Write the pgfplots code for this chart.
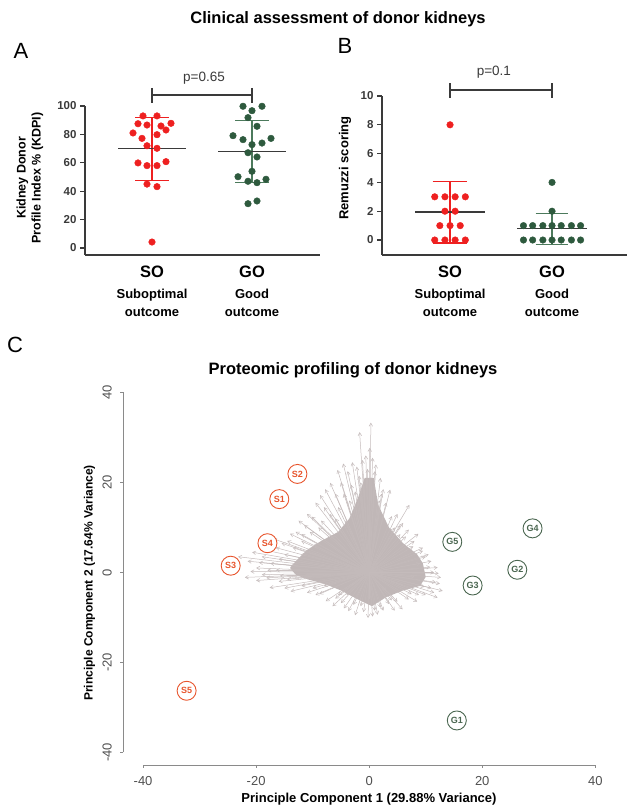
\documentclass[border=0pt]{standalone}
\usepackage{pgfplots}
\pgfplotsset{compat=1.18}
\usepackage{fontspec}
\setmainfont{Liberation Sans}
\usetikzlibrary{arrows.meta}

\definecolor{soRed}{HTML}{EE2020}
\definecolor{goGreen}{HTML}{2E5A3E}
\definecolor{goBar}{HTML}{4C7A5C}
\definecolor{axisdark}{HTML}{3A3A3A}
\definecolor{sOrange}{HTML}{E8552D}
\definecolor{gLabel}{HTML}{4A6650}
\definecolor{arrowGray}{HTML}{C4BBBB}
\definecolor{coreGray}{HTML}{C0B7B7}
\definecolor{cGray}{HTML}{8A8A8A}
\definecolor{tickGray}{HTML}{505050}

\pgfplotsset{
  dotplot/.style={
    scale only axis, clip=false,
    axis lines=left, axis line style={-, line width=1.3pt, draw=axisdark},
    tick align=outside, major tick length=5pt,
    xtick={0,1}, xtick style={draw=none},
    ytick style={line width=1.3pt, draw=axisdark},
    /pgf/number format/assume math mode=true,
    yticklabel style={font=\bfseries\fontsize{11.5}{13}\selectfont, text=axisdark},
    xticklabel style={align=center, font=\bfseries\fontsize{13}{18}\selectfont, text=black},
    xticklabel shift=2pt,
    xticklabels={{{\fontsize{16.5}{18}\selectfont SO}\\[3pt]Suboptimal\\outcome},
                 {{\fontsize{16.5}{18}\selectfont GO}\\[3pt]Good\\outcome}},
  },
  bar/.style={line width=1.3pt},
}

\begin{document}
\begin{tikzpicture}[x=1pt,y=1pt]
\useasboundingbox (0,0) rectangle (629,806);

\node[font=\bfseries\fontsize{16.5}{18}\selectfont] at (338,787) {Clinical assessment of donor kidneys};
\node[font=\fontsize{22}{24}\selectfont] at (21,755) {A};
\node[font=\fontsize{22}{24}\selectfont] at (345,760) {B};
\node[font=\fontsize{22}{24}\selectfont] at (15,461) {C};
\node[font=\bfseries\fontsize{16.5}{18}\selectfont] at (353,436) {Proteomic profiling of donor kidneys};

\node[rotate=90, align=center, font=\bfseries\fontsize{12.5}{15}\selectfont] at (30,628) {Kidney Donor\\Profile Index \% (KDPI)};
\node[rotate=90, font=\bfseries\fontsize{13}{15}\selectfont] at (345,638) {Remuzzi scoring};
\node[rotate=90, font=\bfseries\fontsize{12}{14}\selectfont] at (89.6,223) {Principle Component 2 (17.64\% Variance)};
\node[font=\bfseries\fontsize{13}{15}\selectfont] at (369,7) {Principle Component 1 (29.88\% Variance)};

% ---------- panel A: KDPI
\begin{axis}[dotplot,
  at={(85pt,551pt)}, anchor=south west,
  width=235pt, height=149pt,
  xmin=-0.67, xmax=1.68, ymin=-4.93, ymax=100,
  ytick={0,20,40,60,80,100},
]
\addplot[only marks, mark=*, mark size=3.3pt, color=soRed] coordinates {
  (-0.09,93.0) (0.05,93.0) (-0.14,87.5) (-0.05,86.6) (0.09,85.9) (0.19,87.8)
  (0.14,83.1) (-0.19,81.0) (0.05,79.8) (-0.10,77.2) (-0.05,72.0) (0.05,70.2)
  (-0.14,59.9) (-0.05,58.0) (0.05,58.0) (0.14,60.8) (-0.05,45.0) (0.05,43.2)
  (0,4.2)
};
\addplot[bar, soRed] coordinates {(0,47.6) (0,91.8)};
\addplot[bar, soRed] coordinates {(-0.17,91.8) (0.17,91.8)};
\addplot[bar, soRed] coordinates {(-0.17,47.6) (0.17,47.6)};
\addplot[bar, axisdark] coordinates {(-0.34,70.0) (0.34,70.0)};

\addplot[only marks, mark=*, mark size=3.3pt, color=goGreen] coordinates {
  (0.91,99.8) (1.0,96.7) (1.10,99.8) (0.96,91.8) (1.05,85.7) (0.81,79.1)
  (0.91,76.3) (1.0,72.8) (1.10,73.9) (1.19,77.2) (0.96,67.1) (1.05,64.1)
  (1.0,54.0) (0.86,50.2) (0.96,47.0) (1.05,46.0) (1.14,48.4) (0.96,31.2)
  (1.05,33.1)
};
\addplot[bar, goBar] coordinates {(1,46.2) (1,89.9)};
\addplot[bar, goBar] coordinates {(0.83,89.9) (1.17,89.9)};
\addplot[bar, goBar] coordinates {(0.83,46.2) (1.17,46.2)};
\addplot[bar, axisdark] coordinates {(0.66,67.8) (1.34,67.8)};

\addplot[bar, axisdark] coordinates {(0,112.7) (0,102.1)};
\addplot[bar, axisdark] coordinates {(0,107.7) (1,107.7)};
\addplot[bar, axisdark] coordinates {(1,112.7) (1,102.1)};
\node[font=\fontsize{13.5}{15}\selectfont, text=axisdark] at (axis cs:0.52,119.7) {p=0.65};
\end{axis}

% ---------- panel B: Remuzzi
\begin{axis}[dotplot,
  at={(382pt,551pt)}, anchor=south west,
  width=245pt, height=159pt,
  xmin=-0.667, xmax=1.735, ymin=-1.04, ymax=10,
  ytick={0,2,4,6,8,10},
]
\addplot[only marks, mark=*, mark size=3.3pt, color=soRed] coordinates {
  (0,8)
  (-0.15,3) (-0.05,3) (0.05,3) (0.15,3)
  (-0.05,2) (0.05,2)
  (-0.10,1) (0,1) (0.10,1)
  (-0.15,0) (-0.05,0) (0.05,0) (0.15,0)
};
\addplot[bar, soRed] coordinates {(0,-0.2) (0,4.07)};
\addplot[bar, soRed] coordinates {(-0.17,4.07) (0.17,4.07)};
\addplot[bar, soRed] coordinates {(-0.17,-0.2) (0.17,-0.2)};
\addplot[bar, axisdark] coordinates {(-0.34,1.94) (0.34,1.94)};

\addplot[only marks, mark=*, mark size=3.3pt, color=goGreen] coordinates {
  (1,4) (1,2)
  (0.72,1) (0.81,1) (0.91,1) (1,1) (1.09,1) (1.19,1) (1.28,1)
  (0.72,0) (0.81,0) (0.91,0) (1,0) (1.09,0) (1.19,0) (1.28,0)
};
\addplot[bar, goBar] coordinates {(1,-0.3) (1,1.83)};
\addplot[bar, goBar] coordinates {(0.84,1.83) (1.16,1.83)};
\addplot[bar, goBar] coordinates {(0.84,-0.3) (1.16,-0.3)};
\addplot[bar, axisdark] coordinates {(0.66,0.8) (1.34,0.8)};

\addplot[bar, axisdark] coordinates {(0,10.9) (0,9.86)};
\addplot[bar, axisdark] coordinates {(0,10.42) (1,10.42)};
\addplot[bar, axisdark] coordinates {(1,10.9) (1,9.86)};
\node[font=\fontsize{13.5}{15}\selectfont, text=axisdark] at (axis cs:0.43,11.67) {p=0.1};
\end{axis}

% ---------- panel C: PCA biplot
\begin{axis}[
  at={(123.3pt,41pt)}, anchor=south west, scale only axis,
  width=494.6pt, height=381.5pt,
  xmin=-43.5, xmax=44, ymin=-42.8, ymax=42,
  axis x line*=bottom, axis y line*=left,
  axis line style={draw=none},
  xtick={-40,-20,0,20,40}, ytick={-40,-20,0,20,40},
  tick align=outside, major tick length=3pt,
  tick style={draw=cGray, line width=0.7pt},
  ticklabel style={font=\fontsize{13}{15}\selectfont, text=tickGray},
  yticklabel style={rotate=90, anchor=south},
  xticklabel shift=5pt, yticklabel shift=5pt,
  /pgf/number format/assume math mode=true,
  clip=false,
]
\draw[cGray, line width=0.8pt] (axis cs:-40,-42.8) -- (axis cs:40,-42.8);
\draw[cGray, line width=0.8pt] (axis cs:-43.5,-40) -- (axis cs:-43.5,40);

% dense core of loadings
\addplot[fill=coreGray, draw=none] coordinates {
  (-13,2.5) (-11,5) (-8.5,7) (-5.5,9) (-3.5,12) (-2,16.5) (-0.8,21) (0.8,21)
  (1.6,15) (3.5,10) (6,6.5) (8.5,4) (9.5,2) (10,-1) (9,-3) (6,-4)
  (3,-5.5) (0.5,-7.5) (-2,-6) (-5,-4) (-8,-2.5) (-11,-1.5) (-13,-0.5) (-14,1)
} -- cycle;

% loading arrows
\addplot[arrowGray, line width=0.5pt, -{Straight Barb[length=3.2pt,width=3.6pt]},
  quiver={u=\thisrow{u}, v=\thisrow{v}}] table {
x y u v
0 0 0.3 33.3
0 0 -1.7 31.2
0 0 0.1 27.7
0 0 -0.6 26
0 0 0.6 25.5
0 0 1.2 24
0 0 -1.2 25
0 0 -2.2 23.5
0 0 -3.0 24.5
0 0 -3.8 22.5
0 0 -4.6 24.2
0 0 -5.6 22.8
0 0 -5.0 20
0 0 -6.9 19.9
0 0 -6.0 17.5
0 0 -7.8 18.5
0 0 -8.7 17.2
0 0 -8.0 14.5
0 0 -9.5 15.5
0 0 -10.2 12.4
0 0 -11 13
0 0 -11.5 10.5
0 0 -12.5 11.5
0 0 -13 9
0 0 -14 8.6
0 0 -14.5 7
0 0 -15.5 6.5
0 0 -16.5 5.5
0 0 -17 7.5
0 0 -18.5 5
0 0 -19 3.5
0 0 -20.7 4.5
0 0 -21.5 2.5
0 0 -23.2 3.5
0 0 -20 1
0 0 -18 0.5
0 0 -22 -1.1
0 0 -20 -1.8
0 0 -19 -0.5
0 0 -17.6 -3.4
0 0 -16 -2
0 0 -15 -3.5
0 0 -13.9 -4.2
0 0 -12 -3
0 0 -11 -4.5
0 0 -9.5 -5
0 0 -7.7 -6.4
0 0 -6.5 -7.5
0 0 -5.5 -5
0 0 -4.5 -8
0 0 -3.7 -8.6
0 0 -2.5 -9.5
0 0 -1.5 -7.5
0 0 -0.2 -10.1
0 0 0.6 -9.8
0 0 1.5 -9.4
0 0 2.5 -8.5
0 0 3.5 -7
0 0 4.5 -8.5
0 0 5.9 -8.2
0 0 7 -6
0 0 8.5 -6.5
0 0 10 -5
0 0 12.1 -5.6
0 0 11 -3.5
0 0 13 -4.1
0 0 12.5 -2.5
0 0 12.7 -1.1
0 0 11.5 0
0 0 12.1 1.1
0 0 11 2.5
0 0 10.5 4
0 0 9.5 5.5
0 0 8.7 8.6
0 0 8 7
0 0 7 9.5
0 0 6 11
0 0 7.1 15
0 0 5 13
0 0 3.7 18.4
0 0 3 15.5
0 0 2.5 18.5
0 0 2 21
0 0 1.8 16
0 0 4.5 10
0 0 -2.5 18
0 0 -1.5 20
0 0 -3.5 16
0 0 -6 12
0 0 -9 10
0 0 -12 7
0 0 -16 3
0 0 -14 1.5
0 0 -12 -1
0 0 -8 -3
0 0 -4 -5
0 0 0 -6
0 0 3 -4
0 0 6 -3
0 0 8 -1
0 0 9 2
0 0 -15 4
0 0 -13.5 5.5
0 0 -17.5 2
0 0 -16.5 0.5
0 0 -14.5 -1.5
0 0 -10 -3.5
0 0 -6 -5.8
0 0 -2.8 -7.2
0 0 1 -8.5
0 0 4 -6.2
0 0 7.5 -4.8
0 0 9.8 -3.2
0 0 10.8 1.2
0 0 10 3.5
0 0 7.8 5.8
0 0 5.5 8.5
0 0 4 12.5
0 0 2.2 17.5
0 0 1 22.5
0 0 -0.3 23
0 0 -1.8 21.5
0 0 -3.2 19.5
0 0 -4.5 17.5
0 0 -5.5 14.5
0 0 -7 13
0 0 -8.5 11.5
0 0 -10.5 9
0 0 -12 8.5
0 0 -9.8 6.2
0 0 -11.8 4.2
0 0 -6.8 8.2
0 0 -4.2 11.5
0 0 -15.8 -0.8
0 0 -18.2 -1.2
0 0 -21 0.2
0 0 -19.5 2.2
0 0 -8.8 -4.8
0 0 -5 -6.8
0 0 -1 -8.8
0 0 2 -7.8
0 0 5 -6.5
0 0 8.8 -5
0 0 11.8 -2.2
0 0 11.5 -4.5
0 0 12.3 -0.2
0 0 9.5 4.8
0 0 6.5 8
0 0 5.5 10.5
};

% samples
\addplot[only marks, mark=none, nodes near coords, point meta=explicit symbolic,
  nodes near coords style={circle, draw=sOrange, text=sOrange, line width=0.9pt,
    minimum size=19pt, inner sep=0pt, anchor=center, fill=white,
    font=\bfseries\fontsize{9}{10}\selectfont}] table[meta=lab] {
x y lab
-15.9 16.3 S1
-12.7 21.9 S2
-24.5 1.5 S3
-18.0 6.5 S4
-32.3 -26.3 S5
};
\addplot[only marks, mark=none, nodes near coords, point meta=explicit symbolic,
  nodes near coords style={circle, draw=gLabel, text=gLabel, line width=0.9pt,
    minimum size=19pt, inner sep=0pt, anchor=center, fill=white,
    font=\bfseries\fontsize{9}{10}\selectfont}] table[meta=lab] {
x y lab
15.5 -32.9 G1
26.2 0.6 G2
18.3 -2.9 G3
28.9 9.8 G4
14.7 6.8 G5
};
\end{axis}
\end{tikzpicture}
\end{document}
